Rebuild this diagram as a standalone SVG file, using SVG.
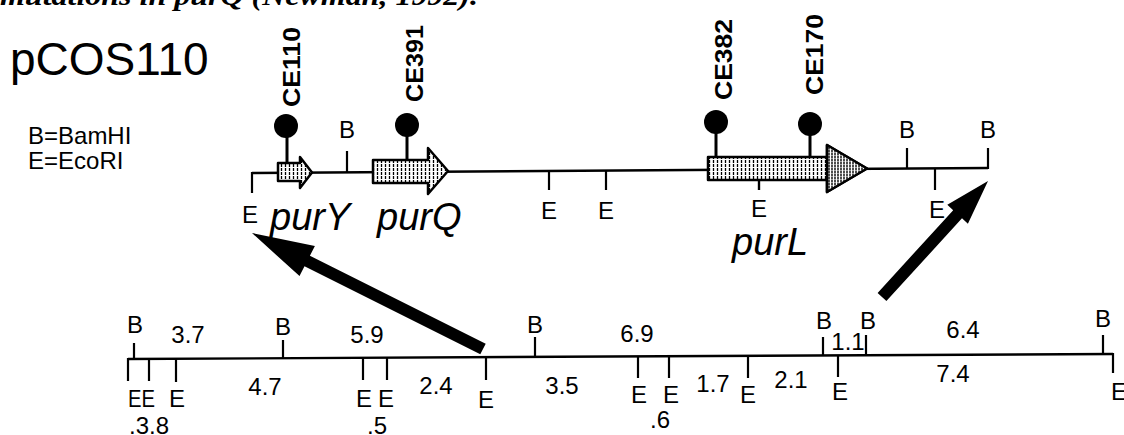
<svg xmlns="http://www.w3.org/2000/svg" width="1124" height="435" viewBox="0 0 1124 435">
<defs>
<pattern id="hatch" patternUnits="userSpaceOnUse" width="4" height="4">
<rect width="4" height="4" fill="#fff"/>
<line x1="1.5" y1="0" x2="1.5" y2="3" stroke="#000" stroke-width="1.3"/>
</pattern>
<pattern id="dense" patternUnits="userSpaceOnUse" width="3" height="3">
<rect width="3" height="3" fill="#fff"/>
<line x1="1" y1="0" x2="1" y2="2.4" stroke="#000" stroke-width="1.4"/>
</pattern>
</defs>
<style>
.ln{stroke:#000;stroke-width:2.4;fill:none}
.tk{stroke:#000;stroke-width:2.2}
.gene{stroke:#000;stroke-width:2.5;stroke-linejoin:round;fill:url(#hatch)}
.stem{stroke:#000;stroke-width:3}
.t{font-family:"Liberation Sans",Arial,sans-serif;fill:#000}
.lab{font-size:24px;text-anchor:middle}
.st{font-size:24px}
.ce{font-size:24px;font-weight:bold}
.gn{font-size:38px;font-style:italic}
.big{fill:#000}
</style>
<rect width="1124" height="435" fill="#fff"/>
<text x="0" y="5" font-family="Liberation Serif,serif" font-weight="bold" font-style="italic" font-size="28" textLength="478" lengthAdjust="spacingAndGlyphs">mutations in purQ (Newman, 1992).</text>

<g id="title">
<text class="t" x="10" y="75" font-size="46">pCOS110</text>
</g>
<g id="legend">
<text class="t" x="28" y="144" font-size="24">B=BamHI</text>
<text class="t" x="28" y="169" font-size="24">E=EcoRI</text>
</g>

<g id="top-map">
<line class="ln" x1="252" y1="173" x2="988" y2="168"/>
<line class="tk" x1="252" y1="172" x2="252" y2="193"/>
<line class="tk" x1="347" y1="172.4" x2="347" y2="151"/>
<line class="tk" x1="549" y1="171" x2="549" y2="190"/>
<line class="tk" x1="606" y1="170.6" x2="606" y2="190"/>
<line class="tk" x1="759" y1="169.6" x2="759" y2="190"/>
<line class="tk" x1="907" y1="168.5" x2="907" y2="148"/>
<line class="tk" x1="935" y1="168.4" x2="935" y2="190"/>
<line class="tk" x1="988" y1="169" x2="988" y2="148"/>
<text class="t lab" x="250" y="223">E</text>
<text class="t lab" x="347" y="138">B</text>
<text class="t lab" x="549" y="219">E</text>
<text class="t lab" x="606" y="219">E</text>
<text class="t lab" x="759" y="217">E</text>
<text class="t lab" x="907" y="138">B</text>
<text class="t lab" x="937" y="218">E</text>
<text class="t lab" x="988" y="138">B</text>
</g>

<g id="gene-purY">
<polygon class="gene" points="278,163 300,163 300,157 312,172.5 300,188 300,181 278,181"/>
<text class="t gn" x="270" y="230">purY</text>
</g>
<g id="gene-purQ">
<polygon class="gene" points="373,160 428,160 428,148 448,171 428,194 428,183 373,183"/>
<text class="t gn" x="377" y="230">purQ</text>
</g>
<g id="gene-purL">
<polygon class="gene" points="708,157 827,157 827,145 867,168.5 827,192 827,180 708,180"/>
<polygon points="827,145 867,168.5 827,192" fill="url(#dense)" stroke="#000" stroke-width="2.5" stroke-linejoin="round"/>
<line class="tk" x1="759" y1="180" x2="759" y2="190"/>
<text class="t gn" x="732" y="255">purL</text>
</g>

<g id="mut-CE110">
<line class="stem" x1="287" y1="136" x2="287" y2="163"/>
<circle cx="286" cy="126" r="12"/>
<text class="t ce" transform="translate(300,107) rotate(-90)" textLength="80" lengthAdjust="spacingAndGlyphs">CE110</text>
</g>
<g id="mut-CE391">
<line class="stem" x1="407" y1="135" x2="407" y2="160"/>
<circle cx="407" cy="125" r="12"/>
<text class="t ce" transform="translate(423,102) rotate(-90)" textLength="77" lengthAdjust="spacingAndGlyphs">CE391</text>
</g>
<g id="mut-CE382">
<line class="stem" x1="716" y1="132" x2="716" y2="157"/>
<circle cx="716" cy="122" r="12"/>
<text class="t ce" transform="translate(732,100) rotate(-90)" textLength="81" lengthAdjust="spacingAndGlyphs">CE382</text>
</g>
<g id="mut-CE170">
<line class="stem" x1="810" y1="134" x2="810" y2="157"/>
<circle cx="810" cy="124" r="12"/>
<text class="t ce" transform="translate(823,95) rotate(-90)" textLength="81" lengthAdjust="spacingAndGlyphs">CE170</text>
</g>

<g id="bottom-map">
<line class="ln" x1="128" y1="359" x2="1113" y2="354"/>
<line class="tk" x1="134" y1="359" x2="134" y2="343"/>
<line class="tk" x1="128" y1="358" x2="128" y2="381"/>
<line class="tk" x1="149" y1="359" x2="149" y2="381"/>
<line class="tk" x1="176" y1="359" x2="176" y2="382"/>
<line class="tk" x1="283" y1="358.2" x2="283" y2="340"/>
<line class="tk" x1="363" y1="357.8" x2="363" y2="380"/>
<line class="tk" x1="387" y1="357.7" x2="387" y2="380"/>
<line class="tk" x1="486" y1="357.2" x2="486" y2="380"/>
<line class="tk" x1="535" y1="356.9" x2="535" y2="337"/>
<line class="tk" x1="638" y1="356.4" x2="638" y2="378"/>
<line class="tk" x1="669" y1="356.3" x2="669" y2="378"/>
<line class="tk" x1="748" y1="355.9" x2="748" y2="378"/>
<line class="tk" x1="823" y1="355.5" x2="823" y2="337"/>
<line class="tk" x1="838" y1="355.4" x2="838" y2="377"/>
<line class="tk" x1="866" y1="355.3" x2="866" y2="335"/>
<line class="tk" x1="1103" y1="354.1" x2="1103" y2="335"/>
<line class="tk" x1="1113" y1="353" x2="1113" y2="373"/>

<text class="t lab" x="135" y="333">B</text>
<text class="t lab" x="283" y="335">B</text>
<text class="t lab" x="535" y="333">B</text>
<text class="t lab" x="824" y="329">B</text>
<text class="t lab" x="868" y="329">B</text>
<text class="t lab" x="1103" y="327">B</text>

<text class="t lab" x="188" y="343">3.7</text>
<text class="t lab" x="367" y="343">5.9</text>
<text class="t lab" x="637" y="342">6.9</text>
<text class="t lab" x="848" y="350" font-size="22">1.1</text>
<text class="t lab" x="963" y="338">6.4</text>

<text class="t lab" x="265" y="395">4.7</text>
<text class="t lab" x="436" y="394">2.4</text>
<text class="t lab" x="562" y="394">3.5</text>
<text class="t lab" x="713" y="392">1.7</text>
<text class="t lab" x="791" y="388">2.1</text>
<text class="t lab" x="953" y="382">7.4</text>

<text class="t st" x="128" y="407" textLength="27" lengthAdjust="spacingAndGlyphs">EE</text>
<text class="t st" x="169" y="407">E</text>
<text class="t st" x="356" y="407" textLength="38" lengthAdjust="spacing">EE</text>
<text class="t lab" x="486" y="408">E</text>
<text class="t lab" x="639" y="403">E</text>
<text class="t lab" x="671" y="403">E</text>
<text class="t lab" x="748" y="403">E</text>
<text class="t lab" x="840" y="400">E</text>
<text class="t st" x="1111" y="400">E</text>

<text class="t st" x="129" y="434">.3.8</text>
<text class="t lab" x="377" y="434">.5</text>
<text class="t lab" x="660" y="428">.6</text>
</g>

<g id="connectors">
<polygon class="big" points="485.7,343.7 309.9,255.7 314.9,245.9 252,233 299.5,276.1 304.5,266.3 480.3,354.3"/>
<polygon class="big" points="886.4,301.1 962,218.3 967.9,223.7 988,181 947.3,204.8 953.2,210.2 877.6,292.9"/>
</g>
</svg>
